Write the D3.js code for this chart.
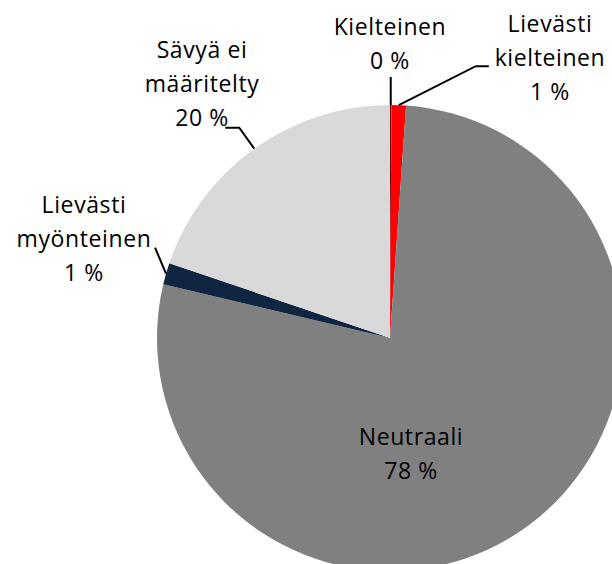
<!DOCTYPE html>
<html>
<head>
<meta charset="utf-8">
<script src="https://cdn.jsdelivr.net/npm/d3@7"></script>
<style>
  html, body { margin: 0; padding: 0; background: #fff; overflow: hidden; }
  svg { display: block; }
  .lbl { font-family: "Open Sans", sans-serif; font-size: 23px; fill: #000; letter-spacing: 0.6px; }
</style>
</head>
<body>
<div id="chart"></div>
<script>
// Osuudet (%) myötäpäivään klo 12:sta alkaen
const categories = ["Kielteinen", "Lievästi kielteinen", "Neutraali", "Lievästi myönteinen", "Sävyä ei määritelty"];
const values = [0.1, 1.0, 77.6, 1.5, 19.8];
const labelLines = [
  ["Kielteinen", "0 %"],
  ["Lievästi", "kielteinen", "1 %"],
  ["Neutraali", "78 %"],
  ["Lievästi", "myönteinen", "1 %"],
  ["Sävyä ei", "määritelty", "20 %"]
];
const colors = ["#7F0000", "#FF0000", "#808080", "#10253F", "#D9D9D9"];

const width = 612, height = 564;
const cx = 390, cy = 338, radius = 233;

// Paikat teksteille (keskikohta, ensimmäisen rivin perusviiva) ja viivojen taitekohdat
const labelPos = [
  { x: 390, y: 35 },
  { x: 550, y: 32 },
  { x: 411, y: 445 },
  { x: 84, y: 213 },
  { x: 202, y: 58 }
];
const leaders = [
  { pts: [[0, 0], [0, -28]] },          // suoraan ylös
  { pts: [[0, 0], [77, -39], [90, -39]] },
  null,                                 // sisällä, ei viivaa
  { pts: [[0, 0], [-11, -26]] },
  { pts: [[0, 0], [-15, -21], [-29, -21]] }
];
const lineHeight = 34;

const svg = d3.select("#chart").append("svg")
  .attr("width", width)
  .attr("height", height);

const pie = d3.pie().sort(null).value(d => d);
const arcs = pie(values);
const arc = d3.arc().innerRadius(0).outerRadius(radius);

const g = svg.append("g").attr("transform", `translate(${cx},${cy})`);

g.selectAll("path.slice")
  .data(arcs)
  .enter()
  .append("path")
  .attr("class", "slice")
  .attr("d", arc)
  .attr("fill", (d, i) => colors[i]);

// Viivat: lähtevät sektorin keskikulmasta reunalta
const line = d3.line();
arcs.forEach((d, i) => {
  if (!leaders[i]) return;
  const a = (d.startAngle + d.endAngle) / 2;
  const x0 = cx + Math.sin(a) * radius;
  const y0 = cy - Math.cos(a) * radius;
  svg.append("path")
    .attr("d", line(leaders[i].pts.map(p => [x0 + p[0], y0 + p[1]])))
    .attr("fill", "none")
    .attr("stroke", "#000")
    .attr("stroke-width", 2);
});

// Tekstit
labelLines.forEach((lines, i) => {
  const t = svg.append("text")
    .attr("class", "lbl")
    .attr("text-anchor", "middle")
    .attr("x", labelPos[i].x)
    .attr("y", labelPos[i].y);
  lines.forEach((s, j) => {
    t.append("tspan")
      .attr("x", labelPos[i].x)
      .attr("dy", j === 0 ? 0 : lineHeight)
      .text(s);
  });
});
</script>
</body>
</html>
